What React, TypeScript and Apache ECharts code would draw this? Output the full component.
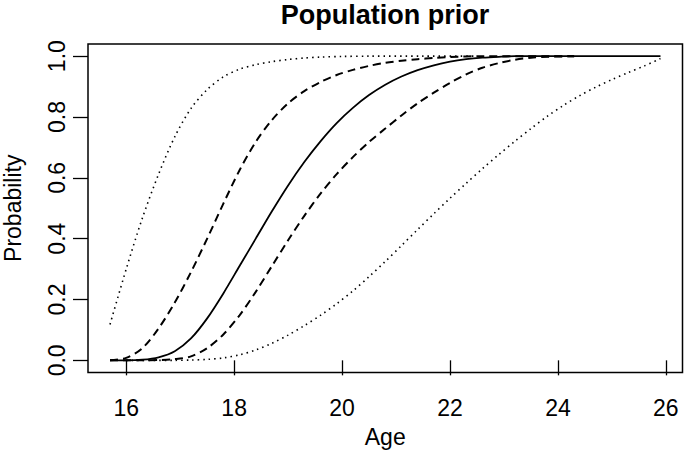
import React, { useEffect, useRef } from "react";
import * as echarts from "echarts";

const title = "Population prior";
const xName = "Age";
const yName = "Probability";
const xTicks = [16, 18, 20, 22, 24, 26];
const yTicks = [0, 0.2, 0.4, 0.6, 0.8, 1.0];

// Median (solid)
const medianX = [15.7, 16.0, 16.3, 16.6, 16.9, 17.2, 17.5, 17.8, 18.1, 18.4, 18.7, 19.0, 19.3, 19.6, 19.9, 20.2, 20.5, 20.8, 21.1, 21.4, 21.7, 22.0, 22.3, 22.6, 22.9, 23.2, 24.5, 25.9];
const medianY = [0, 0, 0.002, 0.01, 0.03, 0.072, 0.138, 0.22, 0.31, 0.4, 0.49, 0.575, 0.652, 0.72, 0.78, 0.83, 0.872, 0.906, 0.933, 0.954, 0.97, 0.982, 0.99, 0.995, 0.998, 1, 1, 1];

// Inner band (dashed)
const innerUpperX = [15.7, 16.0, 16.3, 16.6, 16.9, 17.2, 17.5, 17.8, 18.1, 18.4, 18.7, 19.0, 19.3, 19.6, 19.9, 20.2, 20.5, 20.8, 21.1, 21.4, 21.7, 22.0, 22.6, 23.4, 24.3];
const innerUpperY = [0, 0.008, 0.04, 0.105, 0.19, 0.29, 0.4, 0.515, 0.625, 0.718, 0.79, 0.845, 0.885, 0.915, 0.938, 0.955, 0.968, 0.978, 0.985, 0.99, 0.994, 0.997, 1, 1, 1];
const innerLowerX = [15.7, 16.3, 16.6, 16.9, 17.2, 17.5, 17.8, 18.1, 18.4, 18.7, 19.0, 19.3, 19.6, 19.9, 20.2, 20.5, 20.8, 21.1, 21.4, 21.7, 22.0, 22.3, 22.6, 22.9, 23.2, 23.5, 23.8, 24.3];
const innerLowerY = [0, 0, 0.001, 0.004, 0.013, 0.04, 0.085, 0.148, 0.225, 0.31, 0.395, 0.475, 0.548, 0.612, 0.668, 0.718, 0.762, 0.805, 0.845, 0.88, 0.912, 0.94, 0.962, 0.977, 0.988, 0.995, 0.998, 1];

// Outer band (dotted)
const outerUpperX = [15.7, 16.0, 16.3, 16.6, 16.9, 17.2, 17.5, 17.8, 18.1, 18.4, 18.7, 19.0, 19.3, 19.6, 20.0, 20.5, 21.5, 22.5];
const outerUpperY = [0.118, 0.3, 0.468, 0.612, 0.735, 0.828, 0.89, 0.932, 0.957, 0.972, 0.982, 0.989, 0.994, 0.997, 0.999, 1, 1, 1];
const outerLowerX = [16.0, 16.9, 17.2, 17.5, 17.8, 18.1, 18.4, 18.7, 19.0, 19.3, 19.6, 19.9, 20.2, 20.5, 20.8, 21.1, 21.4, 21.7, 22.0, 22.3, 22.6, 22.9, 23.2, 23.5, 23.8, 24.1, 24.4, 24.7, 25.0, 25.3, 25.6, 25.9];
const outerLowerY = [0, 0, 0.001, 0.003, 0.008, 0.018, 0.034, 0.056, 0.083, 0.114, 0.148, 0.186, 0.228, 0.275, 0.325, 0.377, 0.43, 0.482, 0.533, 0.582, 0.63, 0.676, 0.72, 0.762, 0.802, 0.838, 0.87, 0.898, 0.923, 0.946, 0.968, 0.992];

const FONT = "'Liberation Sans', Arial, Helvetica, sans-serif";

const pairs = (xs: number[], ys: number[]) => xs.map((x, i) => [x, ys[i]]);

export default function App() {
  const ref = useRef<HTMLDivElement>(null);
  useEffect(() => {
    if (!ref.current) return;
    const chart = echarts.init(ref.current, null, { renderer: "svg" });
    const line = (data: number[][], type: any, width: number) => ({
      type: "line",
      data,
      showSymbol: false,
      symbol: "none",
      smooth: 0.3,
      lineStyle: { color: "#000", width, type, cap: "butt" },
      silent: true,
    });
    const dashed = [8, 5];
    const dotted = [1.5, 4];
    chart.setOption({
      animation: false,
      backgroundColor: "#fff",
      title: {
        text: title,
        left: 385,
        top: 1,
        padding: 0,
        textAlign: "center",
        textStyle: { fontFamily: FONT, fontSize: 27, fontWeight: "bold", color: "#000" },
      },
      grid: {
        left: 88,
        right: 2.5,
        top: 44,
        bottom: 81.5,
        outerBoundsMode: "none",
        containLabel: false,
        show: true,
        borderColor: "#000",
        borderWidth: 1.5,
        backgroundColor: "transparent",
      },
      xAxis: {
        type: "value",
        min: 15.292,
        max: 26.308,
        name: xName,
        nameLocation: "middle",
        nameGap: 53,
        nameTextStyle: { fontFamily: FONT, fontSize: 23, color: "#000" },
        axisLine: { show: false },
        splitLine: { show: false },
        axisTick: {
          show: true,
          length: 15,
          customValues: xTicks,
          lineStyle: { color: "#000", width: 1.3 },
        },
        axisLabel: {
          customValues: xTicks,
          margin: 24,
          fontFamily: FONT,
          fontSize: 23,
          color: "#000",
        },
      },
      yAxis: {
        type: "value",
        min: -0.04,
        max: 1.04,
        name: yName,
        nameLocation: "middle",
        nameGap: 64,
        nameRotate: 90,
        nameTextStyle: { fontFamily: FONT, fontSize: 23, color: "#000" },
        axisLine: { show: false },
        splitLine: { show: false },
        axisTick: {
          show: true,
          length: 15,
          customValues: yTicks,
          lineStyle: { color: "#000", width: 1.3 },
        },
        axisLabel: {
          customValues: yTicks,
          rotate: 90,
          margin: 20,
          fontFamily: FONT,
          fontSize: 23,
          color: "#000",
          formatter: (v: number) => v.toFixed(1),
        },
      },
      series: [
        line(pairs(outerUpperX, outerUpperY), dotted, 1.6),
        line(pairs(outerLowerX, outerLowerY), dotted, 1.6),
        line(pairs(innerUpperX, innerUpperY), dashed, 2),
        line(pairs(innerLowerX, innerLowerY), dashed, 2),
        line(pairs(medianX, medianY), "solid", 1.8),
      ],
    });
    return () => chart.dispose();
  }, []);
  return (
    <div
      ref={ref}
      style={{ position: "absolute", left: 0, top: 0, width: 685, height: 454 }}
    />
  );
}
